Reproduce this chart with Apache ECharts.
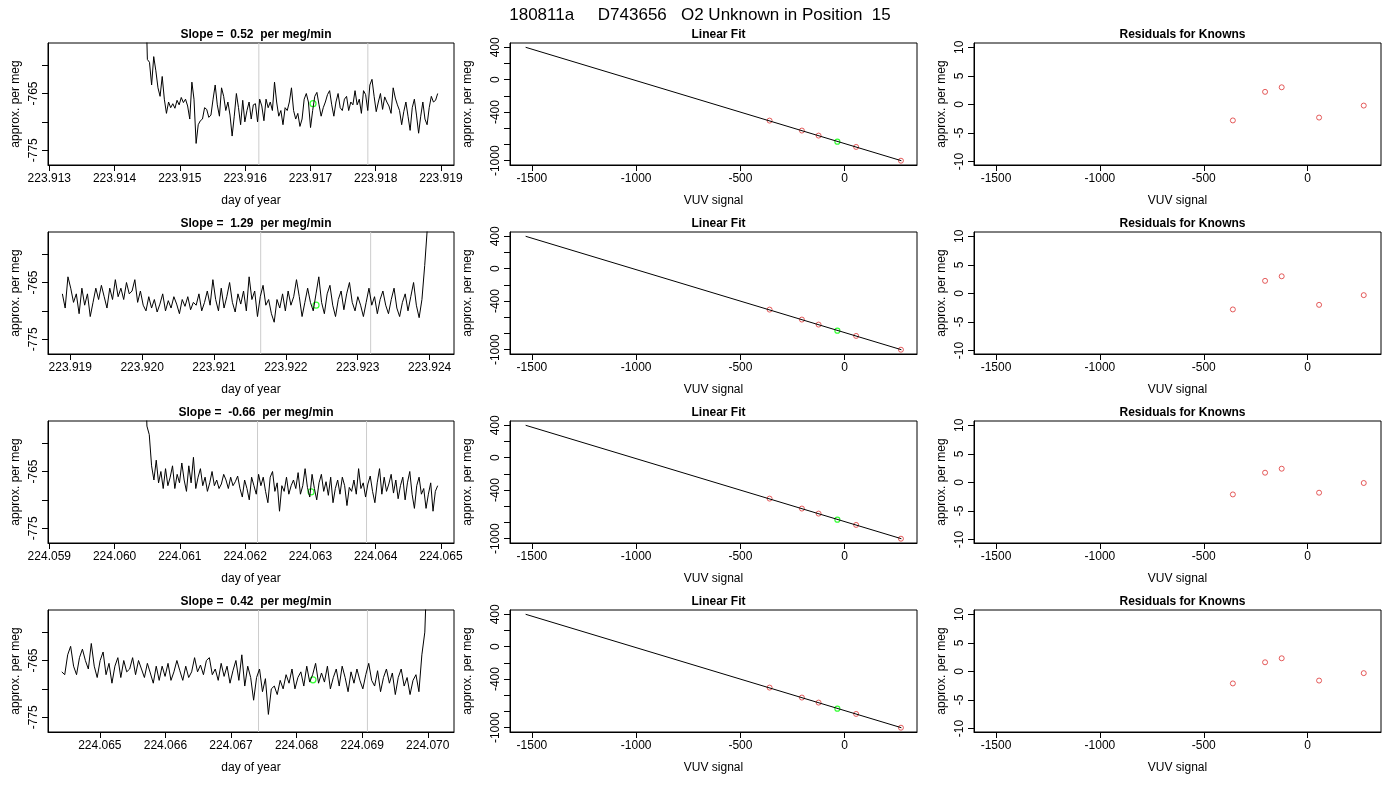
<!DOCTYPE html>
<html><head><meta charset="utf-8">
<script src="https://cdn.jsdelivr.net/npm/echarts@6/dist/echarts.min.js"></script>
<style>html,body{margin:0;padding:0;background:#fff}#c{width:1400px;height:800px}</style>
</head><body><div id="c"></div>
<script>
const mainTitle = "180811a     D743656   O2 Unknown in Position  15";
const slopes = ["0.52", "1.29", "-0.66", "0.42"];
// time series: start, end of samples
const tStart = [223.91447, 223.91889, 224.06046, 224.06442];
const tEnd = [223.91895, 223.92401, 224.06495, 224.07000];
const xRange = [[223.91298,223.91920],[223.91869,223.92434],[224.05898,224.06520],[224.06421,224.07040]];
const xTicks = [
 [223.913,223.914,223.915,223.916,223.917,223.918,223.919],
 [223.919,223.920,223.921,223.922,223.923,223.924],
 [224.059,224.060,224.061,224.062,224.063,224.064,224.065],
 [224.065,224.066,224.067,224.068,224.069,224.070]];
const greyLines = [[223.91621,223.91788],[223.92165,223.92318],[224.06219,224.06386],[224.06742,224.06908]];
const greenPt = [[223.91704,-766.8],[223.92242,-769],[224.06301,-768.6],[224.06825,-768.4]];
const series1 = [-745,-759,-759.5,-763.5,-758.5,-761,-764,-765.5,-762,-766,-768.5,-766.5,-767.5,-766.8,-767.6,-766.2,-767,-765.7,-766.6,-766,-767.2,-769.5,-763,-766,-773.8,-770.5,-769.8,-769.5,-767.5,-767.8,-769.2,-768.8,-766,-763.5,-767,-769,-764,-765.5,-768,-766.5,-768.8,-772.5,-769,-765,-767.5,-770.5,-766.2,-770,-768,-766.5,-769.5,-767,-766.8,-770,-766,-767.2,-769.8,-766,-767.5,-766.5,-768,-763,-766.5,-769,-768,-770.5,-767.5,-768,-766.5,-764,-768,-769.5,-768.5,-770.8,-769.5,-766,-765,-766.5,-771,-768,-765.5,-764.8,-767,-769,-767.5,-766.5,-765.2,-764.5,-767,-769,-766.5,-765,-767.5,-768,-766,-765.5,-768,-766.5,-767,-764.5,-767,-766,-768.5,-764.5,-765.2,-768,-763.5,-762.5,-765.5,-768.2,-766.5,-765,-767.8,-765.6,-766.5,-767.2,-768.5,-764,-765.8,-767,-768,-770.5,-768.2,-766.5,-769,-771.5,-767.5,-766,-768.8,-772,-769,-766.5,-769.5,-770.5,-767.5,-765.5,-766.5,-766.2,-765];
const series2 = [-767,-769.5,-764,-766,-768.5,-767,-770.5,-766,-769,-767,-771,-768.5,-766,-768,-765.5,-767.5,-769.5,-766,-768,-764.5,-767.5,-766,-768,-765,-767,-766.5,-764.5,-768.5,-766.5,-769,-770,-767.5,-769.5,-768,-770.2,-768.8,-767,-770,-768.2,-769.5,-767.5,-768.8,-770.5,-768,-769.2,-767.5,-769.8,-768.5,-769,-767,-770,-768.5,-766.5,-769,-764.5,-768,-770,-766,-769.5,-767.5,-765,-768.5,-770.2,-767,-768.8,-766.5,-770,-764,-768,-766.5,-771,-767.5,-765.5,-769,-768,-770.5,-772,-768,-769.5,-767,-770,-766.5,-769,-767.5,-764.5,-767.5,-771,-768.5,-766,-768.5,-770,-767,-764,-768.5,-770.5,-767,-765.5,-769,-771,-768,-766.5,-769.8,-767,-765,-768.5,-770,-767.5,-769,-771,-768.5,-766,-769,-767.5,-770.5,-768,-766.5,-769,-770.5,-768,-766,-769.5,-771,-768.5,-767,-770,-767.5,-765,-769,-771.2,-768,-762,-755,-740];
const series3 = [-745,-757,-758.5,-764,-766.5,-763,-767,-765,-768,-764.5,-767.5,-766,-764,-768,-765.5,-767,-763.5,-766.5,-768.5,-764,-767,-762.5,-768,-766,-764.5,-767.5,-766,-768.5,-767,-765,-767.5,-766.5,-768,-767.2,-765.5,-766.5,-768,-766,-767.5,-766.8,-765.8,-768,-769.5,-766.5,-768,-770,-766,-767.5,-769,-765.5,-767.5,-766,-768.5,-770.5,-766,-765,-768.5,-767,-772,-767.5,-768.5,-766,-769,-767.5,-766.5,-768,-765.2,-769,-767.5,-764.5,-767.8,-769.5,-765.5,-768,-770,-767,-765.5,-768.5,-766.8,-769.2,-766,-770.5,-768,-766.5,-769,-766,-767.5,-771,-767.8,-768.5,-766.5,-769,-764.5,-768,-767,-769.5,-767.2,-765.8,-768.5,-770.5,-767,-764.5,-769,-766,-768.5,-767.2,-765.5,-768.8,-766.5,-769.8,-767.5,-766,-770,-767,-765,-769,-771.5,-767.5,-766,-769,-768,-771.5,-769,-767,-772,-768.5,-767.5];
const series4 = [-767,-767.5,-764,-762.5,-766,-767.5,-764.5,-763,-765,-766.5,-762,-766,-768,-765,-763.5,-767.5,-765.5,-769,-766,-764.5,-768,-765,-767,-766.5,-764.5,-767.5,-765,-766.5,-768,-765.5,-767.2,-769,-766,-768.5,-766,-767.8,-765.5,-768.5,-767,-765,-766.8,-768.5,-766,-768,-767,-764.5,-767,-765.8,-767.5,-765,-764.5,-767.5,-766.5,-768.5,-765.5,-767.8,-766,-769,-766.8,-765,-768.5,-764,-769.5,-766,-768,-772,-768,-766.5,-770.5,-768.2,-774.5,-770,-769.5,-771,-768.5,-770,-767.5,-769,-766.5,-770,-768,-767,-769.5,-766,-768.8,-767.5,-765.5,-769,-767.2,-768.8,-766,-770,-768,-766.5,-769.5,-766,-768,-770.5,-767,-769,-766.5,-768.5,-770,-767.5,-765.5,-768.5,-769.5,-766.8,-770.5,-768,-766.5,-769,-767.2,-771,-768,-766.5,-769.5,-768,-771,-768.5,-767.5,-770.5,-764,-760,-745];
const tsValues = [series1, series2, series3, series4];
// linear fit panel
const fitLineX = [-1530, 272];
const fitLineY = [400, -1000];
const knownX = [-360, -205, -125, 55, 270];
const knownY = [-505, -628, -690, -830, -1000];
const unknownFit = [-35, -765];
// residual panel
const residuals = [
 [-2.8, 2.2, 3.0, -2.3, -0.2],
 [-2.8, 2.2, 3.0, -2.0, -0.3],
 [-2.1, 1.7, 2.4, -1.8, -0.1],
 [-2.1, 1.6, 2.3, -1.6, -0.3]];

const FONT = "Liberation Sans, Arial, sans-serif";
const colLeft = [48, 510, 974], colW = [406, 407, 407];
const rowTop = [43, 232, 421, 610], rowH = 122;
const grids = [], xAxes = [], yAxes = [], series = [], titles = [];
titles.push({text: mainTitle, left: 'center', top: 2, textStyle: {fontFamily: FONT, fontSize: 17, fontWeight: 'normal', color: '#000'}});
const plain = v => String(v);
function axisBase(extra) {
  return Object.assign({
    axisLine: {show: true, onZero: false, lineStyle: {color: '#000'}},
    splitLine: {show: false},
    nameLocation: 'middle',
    nameTextStyle: {color: '#000', fontFamily: FONT, fontSize: 12}
  }, extra);
}
function ticks(vals) { return {show: true, length: 6, lineStyle: {color: '#000'}, customValues: vals}; }
function labels(vals, rot, fmt) { return {color: '#000', fontFamily: FONT, fontSize: 12, rotate: rot || 0, customValues: vals, formatter: fmt || plain}; }
let gi = 0;
for (let r = 0; r < 4; r++) {
  for (let c = 0; c < 3; c++) {
    grids.push({left: colLeft[c], top: rowTop[r], width: colW[c], height: rowH, show: true, borderColor: '#000', borderWidth: 1, backgroundColor: 'transparent'});
    const ttl = c === 0 ? 'Slope =  ' + slopes[r] + '  per meg/min' : (c === 1 ? 'Linear Fit' : 'Residuals for Knowns');
    titles.push({text: ttl, left: colLeft[c] + colW[c] / 2, textAlign: 'center', top: rowTop[r] - 19, textStyle: {fontFamily: FONT, fontSize: 12, fontWeight: 'bold', color: '#000'}});
    if (c === 0) {
      const yMin = -777.6, yMax = -756.1;
      xAxes.push(axisBase({type: 'value', gridIndex: gi, min: xRange[r][0], max: xRange[r][1], name: 'day of year', nameGap: 30,
        axisTick: ticks(xTicks[r]), axisLabel: labels(xTicks[r], 0, v => v.toFixed(3))}));
      yAxes.push(axisBase({type: 'value', gridIndex: gi, min: yMin, max: yMax, name: 'approx. per meg', nameGap: 26,
        axisTick: ticks([-775, -770, -765, -760]), axisLabel: labels([-775, -765], 90)}));
      greyLines[r].forEach(x => series.push({type: 'line', xAxisIndex: gi, yAxisIndex: gi, data: [[x, yMin], [x, yMax]], symbol: 'none',
        lineStyle: {color: '#cccccc', width: 1}, silent: true, animation: false}));
      const vals = tsValues[r];
      const dt = (tEnd[r] - tStart[r]) / (vals.length - 1);
      series.push({type: 'line', xAxisIndex: gi, yAxisIndex: gi, data: vals.map((v, i) => [tStart[r] + i * dt, v]),
        showSymbol: false, symbol: 'none', lineStyle: {color: '#000', width: 1}, silent: true, animation: false, clip: true});
      series.push({type: 'scatter', xAxisIndex: gi, yAxisIndex: gi, data: [greenPt[r]], symbol: 'circle', symbolSize: 6,
        itemStyle: {color: 'transparent', borderColor: '#00ff00', borderWidth: 1.2}, silent: true, animation: false});
    } else if (c === 1) {
      xAxes.push(axisBase({type: 'value', gridIndex: gi, min: -1605, max: 347, name: 'VUV signal', nameGap: 30,
        axisTick: ticks([-1500, -1000, -500, 0]), axisLabel: labels([-1500, -1000, -500, 0])}));
      yAxes.push(axisBase({type: 'value', gridIndex: gi, min: -1053, max: 453, name: 'approx. per meg', nameGap: 36,
        axisTick: ticks([-1000, -800, -600, -400, -200, 0, 200, 400]), axisLabel: labels([-1000, -400, 0, 400], 90)}));
      series.push({type: 'line', xAxisIndex: gi, yAxisIndex: gi, data: fitLineX.map((x, i) => [x, fitLineY[i]]), symbol: 'none',
        lineStyle: {color: '#000', width: 1}, silent: true, animation: false});
      series.push({type: 'scatter', xAxisIndex: gi, yAxisIndex: gi, data: knownX.map((x, i) => [x, knownY[i]]), symbolSize: 5,
        itemStyle: {color: 'transparent', borderColor: '#dd3333', borderWidth: 1}, silent: true, animation: false});
      series.push({type: 'scatter', xAxisIndex: gi, yAxisIndex: gi, data: [unknownFit], symbolSize: 5,
        itemStyle: {color: 'transparent', borderColor: '#00ff00', borderWidth: 1.2}, silent: true, animation: false});
    } else {
      xAxes.push(axisBase({type: 'value', gridIndex: gi, min: -1606, max: 353, name: 'VUV signal', nameGap: 30,
        axisTick: ticks([-1500, -1000, -500, 0]), axisLabel: labels([-1500, -1000, -500, 0])}));
      yAxes.push(axisBase({type: 'value', gridIndex: gi, min: -10.6, max: 10.75, name: 'approx. per meg', nameGap: 26,
        axisTick: ticks([-10, -5, 0, 5, 10]), axisLabel: labels([-10, -5, 0, 5, 10], 90)}));
      series.push({type: 'scatter', xAxisIndex: gi, yAxisIndex: gi, data: knownX.map((x, i) => [x, residuals[r][i]]), symbolSize: 5,
        itemStyle: {color: 'transparent', borderColor: '#dd3333', borderWidth: 1}, silent: true, animation: false});
    }
    gi++;
  }
}
const chart = echarts.init(document.getElementById('c'), null, {renderer: 'canvas'});
chart.setOption({backgroundColor: '#fff', animation: false, title: titles, grid: grids, xAxis: xAxes, yAxis: yAxes, series: series});
</script></body></html>
